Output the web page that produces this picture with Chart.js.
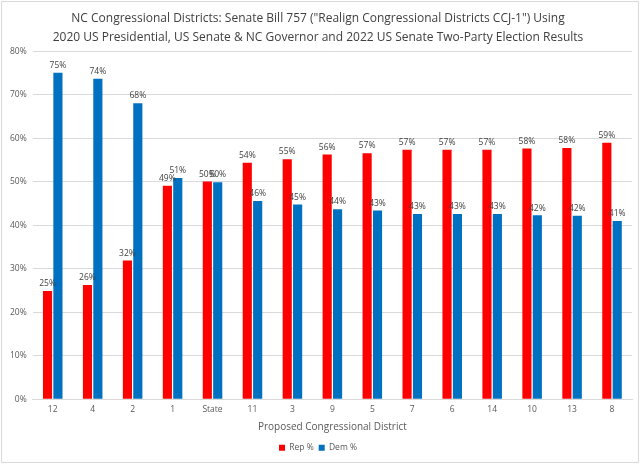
<!DOCTYPE html>
<html>
<head>
<meta charset="utf-8">
<script src="https://cdn.jsdelivr.net/npm/chart.js@4"></script>
<style>
    html, body { margin: 0; padding: 0; background: #fff; }
    #wrap { position: relative; width: 636px; height: 460px; margin: 1px; border: 1px solid #d9d9d9; }
</style>
</head>
<body>
<div id="wrap"><canvas id="ncChart" width="636" height="460"></canvas></div>
<script>
// districts sorted by Rep share
const districts = ["12", "4", "2", "1", "State", "11", "3", "9", "5", "7", "6", "14", "10", "13", "8"];
const repPct = [24.9, 26.3, 31.9, 49.1, 50.1, 54.4, 55.2, 56.3, 56.6, 57.4, 57.4, 57.4, 57.7, 57.8, 59.0];
const demPct = [75.1, 73.7, 68.1, 50.9, 49.9, 45.6, 44.8, 43.7, 43.4, 42.6, 42.6, 42.6, 42.3, 42.2, 41.0];
const yTicks = [0, 10, 20, 30, 40, 50, 60, 70, 80];

const FONT = "'Open Sans', sans-serif";

// draws the % value over each bar
const barLabels = {
    id: "barLabels",
    afterDatasetsDraw(chart) {
        const ctx = chart.ctx;
        ctx.save();
        ctx.font = "8.5px " + FONT;
        ctx.fillStyle = "#404040";
        ctx.textAlign = "center";
        ctx.textBaseline = "bottom";
        chart.data.datasets.forEach((ds, i) => {
            chart.getDatasetMeta(i).data.forEach((bar, j) => {
                ctx.fillText(Math.round(ds.data[j]) + "%", bar.x, bar.y - 3);
            });
        });
        ctx.restore();
    },
};

new Chart(document.getElementById("ncChart").getContext("2d"), {
    type: "bar",
    data: {
        labels: districts,
        datasets: [
            {
                label: "Rep %",
                data: repPct,
                backgroundColor: "#ff0000",
                categoryPercentage: 0.52,
                barPercentage: 0.88,
            },
            {
                label: "Dem %",
                data: demPct,
                backgroundColor: "#0070c0",
                categoryPercentage: 0.52,
                barPercentage: 0.88,
            },
        ],
    },
    options: {
        responsive: false,
        animation: false,
        layout: { padding: { left: 2, right: 6, top: 7, bottom: 0 } },
        plugins: {
            title: {
                display: true,
                text: [
                    "NC Congressional Districts: Senate Bill 757 (\"Realign Congressional Districts CCJ-1\") Using",
                    "2020 US Presidential, US Senate & NC Governor and 2022 US Senate Two-Party Election Results",
                ],
                color: "#404040",
                font: { family: FONT, size: 12, weight: "normal", lineHeight: 1.6 },
                padding: { top: 0, bottom: 4 },
            },
            legend: {
                position: "bottom",
                labels: {
                    color: "#595959",
                    font: { family: FONT, size: 8.5 },
                    boxWidth: 6,
                    boxHeight: 6,
                    padding: 5,
                },
            },
            tooltip: { enabled: false },
        },
        scales: {
            x: {
                grid: { display: false, drawTicks: false },
                border: { color: "#d9d9d9" },
                ticks: { color: "#595959", font: { family: FONT, size: 8.5 }, padding: 5 },
                title: {
                    display: true,
                    text: "Proposed Congressional District",
                    color: "#595959",
                    font: { family: FONT, size: 10 },
                    padding: { top: 2, bottom: 5 },
                },
            },
            y: {
                min: 0,
                max: 80,
                afterBuildTicks: (axis) => { axis.ticks = yTicks.map((v) => ({ value: v })); },
                grid: { color: "#d9d9d9", drawTicks: false },
                border: { display: false },
                ticks: {
                    color: "#595959",
                    font: { family: FONT, size: 8.5 },
                    padding: 6,
                    callback: (v) => v + "%",
                },
            },
        },
    },
    plugins: [barLabels],
});
</script>
</body>
</html>
